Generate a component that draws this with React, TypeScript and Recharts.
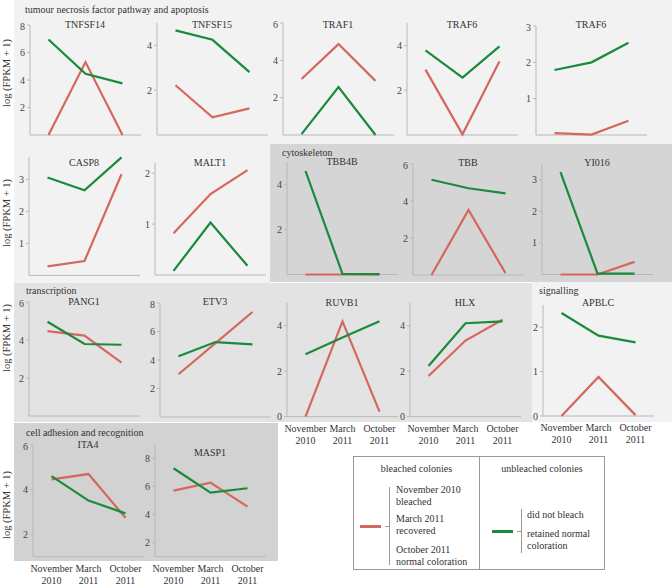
import React from 'react';
import { LineChart, Line, XAxis, YAxis } from 'recharts';

const MONTHS = ['November 2010', 'March 2011', 'October 2011'];

// log (FPKM + 1), red = bleached colonies, green = unbleached colonies
const tnfsf14Bleached = [0, 5.3, 0];
const tnfsf14Unbleached = [6.95, 4.45, 3.75];
const tnfsf15Bleached = [2.22, 0.79, 1.19];
const tnfsf15Unbleached = [4.67, 4.25, 2.81];
const traf1Bleached = [3.0, 4.87, 2.9];
const traf1Unbleached = [0.05, 2.57, 0];
const traf6aBleached = [2.92, 0.03, 3.29];
const traf6aUnbleached = [3.78, 2.56, 3.96];
const traf6bBleached = [0.05, 0.01, 0.39];
const traf6bUnbleached = [1.79, 2.0, 2.54];
const casp8Bleached = [0.28, 0.45, 3.16];
const casp8Unbleached = [3.06, 2.66, 3.69];
const malt1Bleached = [0.82, 1.59, 2.06];
const malt1Unbleached = [0.08, 1.03, 0.18];
const tbb4bBleached = [0, 0, 0];
const tbb4bUnbleached = [4.6, 0.03, 0.02];
const tbbBleached = [0, 3.51, 0.1];
const tbbUnbleached = [5.15, 4.69, 4.41];
const yi016Bleached = [0, 0, 0.4];
const yi016Unbleached = [3.24, 0.03, 0.03];
const pang1Bleached = [4.47, 4.23, 2.81];
const pang1Unbleached = [4.96, 3.79, 3.75];
const etv3Bleached = [3.0, 5.19, 7.37];
const etv3Unbleached = [4.26, 5.26, 5.1];
const ruvb1Bleached = [0, 4.19, 0.22];
const ruvb1Unbleached = [2.75, 3.48, 4.2];
const hlxBleached = [1.79, 3.35, 4.26];
const hlxUnbleached = [2.23, 4.11, 4.19];
const apblcBleached = [0, 0.88, 0.02];
const apblcUnbleached = [2.32, 1.81, 1.66];
const ita4Bleached = [4.46, 4.7, 2.74];
const ita4Unbleached = [4.61, 3.51, 2.94];
const masp1Bleached = [5.69, 6.26, 4.55];
const masp1Unbleached = [7.28, 5.55, 5.86];

const RED = '#d6675e';
const GREEN = '#1a8a3c';
const AXIS = '#b8b8b8';
const SERIF = '"Liberation Serif", "Times New Roman", Times, "DejaVu Serif", serif';
const FS = 10;

const YW = 24;
const PLOT_W = 111;
const MT = 4;
const AX_H = 4;
const LBL_H = 30;

// x = pixel of the y axis, y0/yTop = pixel of domain min/max
const PANELS = [
  { gene: 'TNFSF14', b: tnfsf14Bleached, u: tnfsf14Unbleached, x: 30, y0: 135, yTop: 25, domain: [0, 8], ticks: [0, 2, 4, 6, 8], titleY: 25 },
  { gene: 'TNFSF15', b: tnfsf15Bleached, u: tnfsf15Unbleached, x: 157, y0: 135, yTop: 23, domain: [0, 5], ticks: [0, 2, 4], titleY: 25 },
  { gene: 'TRAF1', b: traf1Bleached, u: traf1Unbleached, x: 283, y0: 135, yTop: 23, domain: [0, 6], ticks: [0, 2, 4, 6], titleY: 25 },
  { gene: 'TRAF6', b: traf6aBleached, u: traf6aUnbleached, x: 407, y0: 135, yTop: 23, domain: [0, 5], ticks: [0, 2, 4], titleY: 25 },
  { gene: 'TRAF6', b: traf6bBleached, u: traf6bUnbleached, x: 536, y0: 135, yTop: 26, domain: [0, 3], ticks: [0, 1, 2, 3], titleY: 25 },
  { gene: 'CASP8', b: casp8Bleached, u: casp8Unbleached, x: 29, y0: 275, yTop: 156.6, domain: [0, 3.7], ticks: [0, 1, 2, 3], titleY: 163 },
  { gene: 'MALT1', b: malt1Bleached, u: malt1Unbleached, x: 155, y0: 275, yTop: 163, domain: [0, 2.2], ticks: [0, 1, 2], titleY: 163 },
  { gene: 'TBB4B', b: tbb4bBleached, u: tbb4bUnbleached, x: 287, y0: 274.5, yTop: 162, domain: [0, 5], ticks: [0, 2, 4], titleY: 162 },
  { gene: 'TBB', b: tbbBleached, u: tbbUnbleached, x: 413, y0: 274.5, yTop: 163.5, domain: [0, 6], ticks: [0, 2, 4, 6], titleY: 163 },
  { gene: 'YI016', b: yi016Bleached, u: yi016Unbleached, x: 542, y0: 274.5, yTop: 164, domain: [0, 3.5], ticks: [0, 1, 2, 3], titleY: 163 },
  { gene: 'PANG1', b: pang1Bleached, u: pang1Unbleached, x: 29, y0: 416, yTop: 302, domain: [0, 6], ticks: [0, 2, 4, 6], titleY: 302 },
  { gene: 'ETV3', b: etv3Bleached, u: etv3Unbleached, x: 160, y0: 416.7, yTop: 302.7, domain: [0, 8], ticks: [0, 2, 4, 6, 8], titleY: 302 },
  { gene: 'RUVB1', b: ruvb1Bleached, u: ruvb1Unbleached, x: 287, y0: 416.7, yTop: 303, domain: [0, 5], ticks: [0, 2, 4], titleY: 303, months: true },
  { gene: 'HLX', b: hlxBleached, u: hlxUnbleached, x: 410, y0: 416.7, yTop: 303, domain: [0, 5], ticks: [0, 2, 4], titleY: 303, months: true },
  { gene: 'APBLC', b: apblcBleached, u: apblcUnbleached, x: 543, y0: 415.5, yTop: 304.5, domain: [0, 2.5], ticks: [0, 1, 2], titleY: 303, months: true },
  { gene: 'ITA4', b: ita4Bleached, u: ita4Unbleached, x: 33, y0: 556.7, yTop: 445, domain: [1, 6], ticks: [2, 4, 6], titleY: 445, months: true },
  { gene: 'MASP1', b: masp1Bleached, u: masp1Unbleached, x: 155, y0: 556.7, yTop: 444, domain: [1, 9], ticks: [2, 4, 6, 8], titleY: 453, months: true },
];

const GROUPS = [
  { left: 14, top: 0, width: 658, height: 144, color: '#f2f2f2' },
  { left: 14, top: 144, width: 256, height: 139, color: '#f2f2f2' },
  { left: 270, top: 144, width: 402, height: 138, color: '#d5d5d5' },
  { left: 14, top: 283, width: 518, height: 139, color: '#e3e3e3' },
  { left: 532, top: 282, width: 140, height: 140, color: '#f2f2f2' },
  { left: 14, top: 423, width: 264, height: 138, color: '#d2d2d2' },
];

const GROUP_LABELS = [
  { text: 'tumour necrosis factor pathway and apoptosis', x: 25, y: 9.5 },
  { text: 'cytoskeleton', x: 282, y: 152.5 },
  { text: 'transcription', x: 26, y: 290.5 },
  { text: 'signalling', x: 539, y: 291 },
  { text: 'cell adhesion and recognition', x: 26, y: 432.5 },
];

const Y_LABEL_ROWS = [73, 213, 338, 505];

const MonthTick = (props: any) => {
  const { x, y, payload } = props;
  const [m, yr] = MONTHS[Math.floor(payload.value)].split(' ');
  return (
    <text x={x} y={y} textAnchor="middle" fill="#333" fontSize={FS} fontFamily={SERIF}>
      <tspan x={x} dy={3}>{m}</tspan>
      <tspan x={x} dy={12}>{yr}</tspan>
    </text>
  );
};

const GenePanel = ({ p }: { p: any }) => {
  const data = MONTHS.map((month, i) => ({ x: i + 0.5, month, bleached: p.b[i], unbleached: p.u[i] }));
  const plotH = p.y0 - p.yTop;
  const h = MT + plotH + AX_H + (p.months ? LBL_H : 0);
  return (
    <div style={{ position: 'absolute', left: p.x - YW, top: p.yTop - MT }}>
      <LineChart width={YW + PLOT_W + 4} height={h} data={data} margin={{ top: MT, right: 4, bottom: 0, left: 0 }}>
        <XAxis xAxisId="band" type="number" dataKey="x" domain={[0, 3]} ticks={[0, 1, 2]} tick={false} tickSize={3} height={AX_H} stroke={AXIS} />
        {p.months && (
          <XAxis xAxisId="lbl" type="number" dataKey="x" domain={[0, 3]} ticks={[0.5, 1.5, 2.5]} axisLine={false} tickLine={false} height={LBL_H} tick={<MonthTick />} interval={0} />
        )}
        <YAxis type="number" domain={p.domain} ticks={p.ticks} width={YW} tickSize={3} stroke={AXIS} tick={{ fill: '#444', fontSize: FS, fontFamily: SERIF }} />
        <Line xAxisId="band" type="linear" dataKey="bleached" stroke={RED} strokeWidth={2.2} dot={false} isAnimationActive={false} zIndex={600} />
        <Line xAxisId="band" type="linear" dataKey="unbleached" stroke={GREEN} strokeWidth={2.2} dot={false} isAnimationActive={false} zIndex={601} />
      </LineChart>
    </div>
  );
};

const txt: React.CSSProperties = { position: 'absolute', fontFamily: SERIF, fontSize: FS, color: '#333', whiteSpace: 'nowrap', lineHeight: '12px' };

const LegendBox = () => (
  <div style={{ position: 'absolute', left: 353, top: 456, width: 252, height: 114, border: '1px solid #999', boxSizing: 'border-box' }}>
    <div style={{ position: 'absolute', left: 125, top: 0, width: 1, height: 112, background: '#999' }} />
    <div style={{ ...txt, left: 0, width: 125, textAlign: 'center', top: 6 }}>bleached colonies</div>
    <div style={{ ...txt, left: 126, width: 124, textAlign: 'center', top: 6 }}>unbleached colonies</div>

    <div style={{ position: 'absolute', left: 6, top: 68, width: 21, height: 3, background: RED }} />
    <div style={{ position: 'absolute', left: 31, top: 69, width: 4, height: 1, background: '#999' }} />
    <div style={{ position: 'absolute', left: 35, top: 30, width: 1, height: 78, background: '#999' }} />
    <div style={{ ...txt, left: 42, top: 27 }}>November 2010<br />bleached</div>
    <div style={{ ...txt, left: 42, top: 56 }}>March 2011<br />recovered</div>
    <div style={{ ...txt, left: 42, top: 87 }}>October 2011<br />normal coloration</div>

    <div style={{ position: 'absolute', left: 138, top: 73, width: 21, height: 3, background: GREEN }} />
    <div style={{ position: 'absolute', left: 163, top: 74, width: 4, height: 1, background: '#999' }} />
    <div style={{ position: 'absolute', left: 167, top: 52, width: 1, height: 44, background: '#999' }} />
    <div style={{ ...txt, left: 173, top: 52 }}>did not bleach</div>
    <div style={{ ...txt, left: 173, top: 71 }}>retained normal<br />coloration</div>
  </div>
);

const App = () => (
  <div style={{ position: 'absolute', left: 0, top: 0, width: 672, height: 586, background: '#fff', overflow: 'hidden' }}>
    {GROUPS.map((g, i) => (
      <div key={i} style={{ position: 'absolute', left: g.left, top: g.top, width: g.width, height: g.height, background: g.color }} />
    ))}
    {GROUP_LABELS.map((g) => (
      <div key={g.text} style={{ ...txt, left: g.x, top: g.y - 6 }}>{g.text}</div>
    ))}
    {Y_LABEL_ROWS.map((cy) => (
      <div key={cy} style={{ ...txt, fontSize: 10.5, left: 7, top: cy, transform: 'translate(-50%, -50%) rotate(-90deg)' }}>log (FPKM + 1)</div>
    ))}
    {PANELS.map((p, i) => (
      <React.Fragment key={i}>
        <div style={{ ...txt, left: p.x + 55 - 40, width: 80, textAlign: 'center', top: p.titleY - 6 }}>{p.gene}</div>
        <GenePanel p={p} />
      </React.Fragment>
    ))}
    <LegendBox />
  </div>
);

export default App;
